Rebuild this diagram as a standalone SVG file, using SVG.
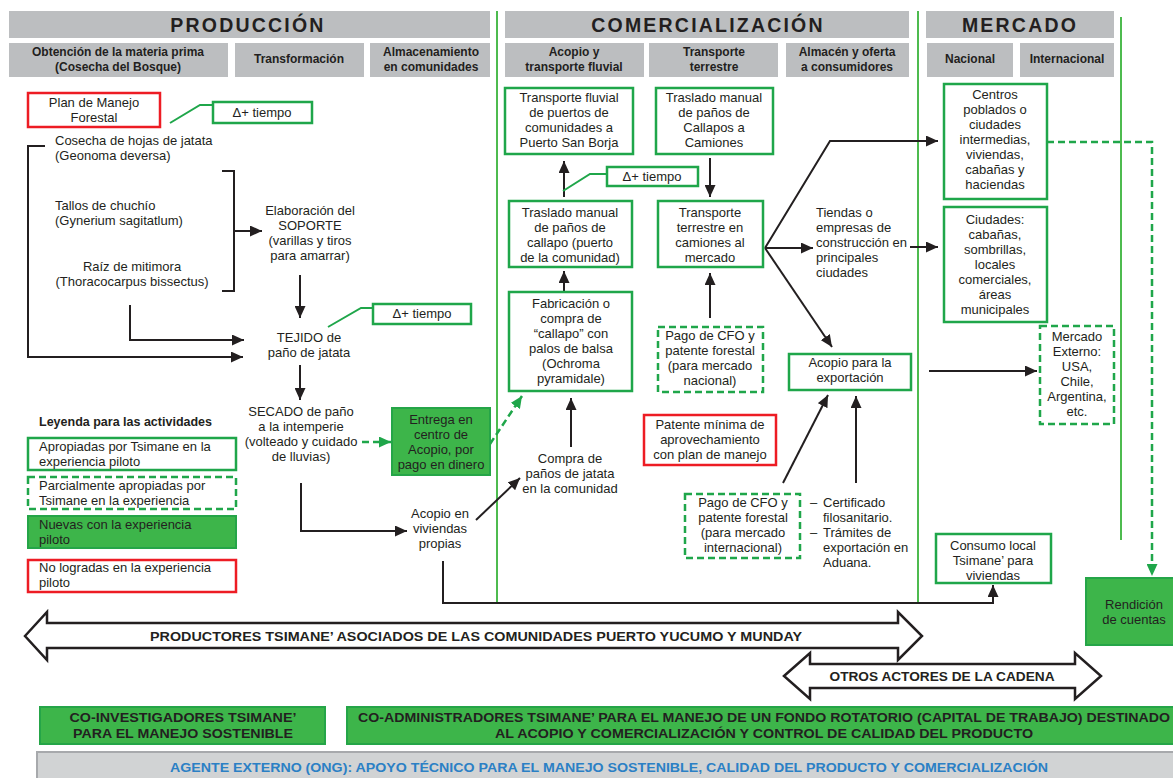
<svg xmlns="http://www.w3.org/2000/svg" width="1173" height="778" viewBox="0 0 1173 778">
<style>
.t{font-family:"Liberation Sans",Arial,Helvetica,sans-serif;font-size:13px;fill:#231f20}
.c{text-anchor:middle}
.hd{font-size:19.5px;font-weight:bold;letter-spacing:2.2px;text-anchor:middle}
.sh{font-size:12px;font-weight:bold;text-anchor:middle}
.bt{font-size:13.5px;font-weight:bold;text-anchor:middle}
.gray{fill:#bcbec0}
.gbox{fill:#fff;stroke:#1fa64a;stroke-width:2.5}
.gdash{fill:#fff;stroke:#1fa64a;stroke-width:2.5;stroke-dasharray:7 4}
.gfill{fill:#3db54a;stroke:#25a548;stroke-width:2}
.rbox{fill:#fff;stroke:#ed1c24;stroke-width:2.5}
.ln{fill:none;stroke:#231f20;stroke-width:2}
.gl{fill:none;stroke:#1fa64a;stroke-width:2}
.gld{fill:none;stroke:#1fa64a;stroke-width:2.5;stroke-dasharray:7 4}
.vl{stroke:#4dbb4f;stroke-width:2}
.big{fill:#fff;stroke:#231f20;stroke-width:2.5}
</style>
<defs>
<marker id="ab" markerUnits="userSpaceOnUse" markerWidth="12" markerHeight="11" refX="12" refY="5.5" orient="auto"><path d="M0,0 L12,5.5 L0,11 z" fill="#231f20"/></marker>
<marker id="ag" markerUnits="userSpaceOnUse" markerWidth="12" markerHeight="11" refX="12" refY="5.5" orient="auto"><path d="M0,0 L12,5.5 L0,11 z" fill="#1fa64a"/></marker>
</defs>

<g id="headers">
<rect class="gray" x="9" y="11" width="481" height="27"/>
<text class="t hd" x="248" y="32">PRODUCCIÓN</text>
<rect class="gray" x="9" y="43" width="219" height="34"/>
<text class="t sh" x="118" y="56">Obtención de la materia prima</text>
<text class="t sh" x="118" y="71">(Cosecha del Bosque)</text>
<rect class="gray" x="235" y="43" width="129" height="34"/>
<text class="t sh" x="299" y="63">Transformación</text>
<rect class="gray" x="370" y="43" width="120" height="34"/>
<text class="t sh" x="431" y="56">Almacenamiento</text>
<text class="t sh" x="431" y="71">en comunidades</text>
<rect class="gray" x="505" y="11" width="404" height="27"/>
<text class="t hd" x="708" y="32">COMERCIALIZACIÓN</text>
<rect class="gray" x="505" y="43" width="139" height="34"/>
<text class="t sh" x="574" y="56">Acopio y</text>
<text class="t sh" x="574" y="71">transporte fluvial</text>
<rect class="gray" x="649" y="43" width="129" height="34"/>
<text class="t sh" x="714" y="56">Transporte</text>
<text class="t sh" x="714" y="71">terrestre</text>
<rect class="gray" x="786" y="43" width="123" height="34"/>
<text class="t sh" x="847" y="56">Almacén y oferta</text>
<text class="t sh" x="847" y="71">a consumidores</text>
<rect class="gray" x="926" y="11" width="188" height="27"/>
<text class="t hd" x="1020" y="32">MERCADO</text>
<rect class="gray" x="927" y="43" width="86" height="34"/>
<text class="t sh" x="970" y="63">Nacional</text>
<rect class="gray" x="1020" y="43" width="94" height="34"/>
<text class="t sh" x="1067" y="63">Internacional</text>
</g>

<g id="dividers">
<line class="vl" x1="497" y1="11" x2="497" y2="603"/>
<line class="vl" x1="918" y1="11" x2="918" y2="603"/>
<line class="vl" x1="1121" y1="17" x2="1121" y2="540"/>
</g>

<g id="connectors">
<polyline class="gl" points="170,123 200,105 213,105"/>
<polyline class="ln" points="45,146 28,146 28,357 243,357" marker-end="url(#ab)"/>
<polyline class="ln" points="222,171 234,171 234,291 222,291"/>
<line class="ln" x1="234" y1="231" x2="262" y2="231" marker-end="url(#ab)"/>
<polyline class="ln" points="130,305 130,340 244,340" marker-end="url(#ab)"/>
<line class="ln" x1="300" y1="275" x2="300" y2="318" marker-end="url(#ab)"/>
<polyline class="gl" points="328,327 361,308 373,308"/>
<line class="ln" x1="300" y1="365" x2="300" y2="400" marker-end="url(#ab)"/>
<line class="gld" x1="362" y1="442" x2="391" y2="442" marker-end="url(#ag)"/>
<line class="gld" x1="490" y1="444" x2="522" y2="396" marker-end="url(#ag)"/>
<polyline class="ln" points="301,483 301,531 407,531" marker-end="url(#ab)"/>
<line class="ln" x1="476" y1="520" x2="520" y2="478" marker-end="url(#ab)"/>
<polyline class="ln" points="443,561 443,603 993,603 993,585" marker-end="url(#ab)"/>
<line class="ln" x1="571" y1="447" x2="571" y2="398" marker-end="url(#ab)"/>
<line class="ln" x1="564" y1="291" x2="564" y2="271" marker-end="url(#ab)"/>
<line class="ln" x1="564" y1="197" x2="564" y2="161" marker-end="url(#ab)"/>
<polyline class="gl" points="563,191 590,174 607,174"/>
<line class="ln" x1="710" y1="158" x2="710" y2="197" marker-end="url(#ab)"/>
<line class="ln" x1="710" y1="318" x2="710" y2="273" marker-end="url(#ab)"/>
<polyline class="ln" points="765,248 830,141 938,141" marker-end="url(#ab)"/>
<line class="ln" x1="765" y1="248" x2="813" y2="248" marker-end="url(#ab)"/>
<line class="ln" x1="765" y1="248" x2="832" y2="347" marker-end="url(#ab)"/>
<line class="ln" x1="910" y1="247" x2="938" y2="247" marker-end="url(#ab)"/>
<line class="ln" x1="783" y1="483" x2="828" y2="395" marker-end="url(#ab)"/>
<line class="ln" x1="856" y1="483" x2="856" y2="396" marker-end="url(#ab)"/>
<line class="ln" x1="929" y1="371" x2="1037" y2="371" marker-end="url(#ab)"/>
<polyline class="gld" points="1047,142 1152,142 1152,576" marker-end="url(#ag)"/>
</g>

<g id="plan-manejo">
<rect class="rbox" x="28" y="93" width="132" height="34"/>
<text class="t c" x="94" y="107">Plan de Manejo</text>
<text class="t c" x="94" y="122">Forestal</text>
</g>
<g id="tiempo-1">
<rect class="gbox" x="213" y="102" width="99" height="21"/>
<text class="t c" x="262" y="117">Δ+ tiempo</text>
</g>
<g id="cosecha">
<text class="t" x="55" y="145">Cosecha de hojas de jatata</text>
<text class="t" x="55" y="160">(Geonoma deversa)</text>
</g>
<g id="tallos">
<text class="t" x="55" y="210">Tallos de chuchío</text>
<text class="t" x="55" y="225">(Gynerium sagitatlum)</text>
</g>
<g id="raiz">
<text class="t c" x="132" y="271">Raíz de mitimora</text>
<text class="t c" x="132" y="286">(Thoracocarpus bissectus)</text>
</g>
<g id="soporte">
<text class="t c" x="310" y="215">Elaboración del</text>
<text class="t c" x="310" y="230">SOPORTE</text>
<text class="t c" x="310" y="245">(varillas y tiros</text>
<text class="t c" x="310" y="260">para amarrar)</text>
</g>
<g id="tiempo-2">
<rect class="gbox" x="373" y="304" width="98" height="20"/>
<text class="t c" x="422" y="318">Δ+ tiempo</text>
</g>
<g id="tejido">
<text class="t c" x="309" y="342">TEJIDO de</text>
<text class="t c" x="309" y="357">paño de jatata</text>
</g>
<g id="secado">
<text class="t c" x="301" y="416">SECADO de paño</text>
<text class="t c" x="301" y="431">a la intemperie</text>
<text class="t c" x="301" y="446">(volteado y cuidado</text>
<text class="t c" x="301" y="461">de lluvias)</text>
</g>
<g id="entrega">
<rect class="gfill" x="392" y="408" width="98" height="67"/>
<text class="t c" x="441" y="424">Entrega en</text>
<text class="t c" x="441" y="439">centro de</text>
<text class="t c" x="441" y="454">Acopio, por</text>
<text class="t c" x="441" y="469">pago en dinero</text>
</g>
<g id="acopio-viviendas">
<text class="t c" x="440" y="518">Acopio en</text>
<text class="t c" x="440" y="533">viviendas</text>
<text class="t c" x="440" y="548">propias</text>
</g>

<g id="legend">
<text class="t" x="39" y="426" style="font-weight:bold;font-size:12.5px">Leyenda para las actividades</text>
<rect class="gbox" x="28" y="438" width="208" height="32"/>
<text class="t" x="39" y="451">Apropiadas por Tsimane en la</text>
<text class="t" x="39" y="466">experiencia piloto</text>
<rect class="gdash" x="28" y="477" width="208" height="32"/>
<text class="t" x="39" y="490">Parcialmente apropiadas por</text>
<text class="t" x="39" y="505">Tsimane en la experiencia</text>
<rect class="gfill" x="28" y="516" width="208" height="32"/>
<text class="t" x="39" y="529">Nuevas con la experiencia</text>
<text class="t" x="39" y="544">piloto</text>
<rect class="rbox" x="28" y="560" width="208" height="32"/>
<text class="t" x="39" y="572">No logradas en la experiencia</text>
<text class="t" x="39" y="587">piloto</text>
</g>

<g id="transporte-fluvial">
<rect class="gbox" x="505" y="88" width="128" height="66"/>
<text class="t c" x="569" y="102">Transporte fluvial</text>
<text class="t c" x="569" y="117">de puertos de</text>
<text class="t c" x="569" y="132">comunidades a</text>
<text class="t c" x="569" y="147">Puerto San Borja</text>
</g>
<g id="traslado-camiones">
<rect class="gbox" x="656" y="88" width="117" height="66"/>
<text class="t c" x="714" y="102">Traslado manual</text>
<text class="t c" x="714" y="117">de paños de</text>
<text class="t c" x="714" y="132">Callapos a</text>
<text class="t c" x="714" y="147">Camiones</text>
</g>
<g id="tiempo-3">
<rect class="gbox" x="607" y="167" width="91" height="19"/>
<text class="t c" x="652" y="181">Δ+ tiempo</text>
</g>
<g id="traslado-callapo">
<rect class="gbox" x="509" y="201" width="123" height="66"/>
<text class="t c" x="570" y="217">Traslado manual</text>
<text class="t c" x="570" y="232">de paños de</text>
<text class="t c" x="570" y="247">callapo (puerto</text>
<text class="t c" x="570" y="262">de la comunidad)</text>
</g>
<g id="transporte-terrestre">
<rect class="gbox" x="658" y="201" width="105" height="66"/>
<text class="t c" x="710" y="217">Transporte</text>
<text class="t c" x="710" y="232">terrestre en</text>
<text class="t c" x="710" y="247">camiones al</text>
<text class="t c" x="710" y="262">mercado</text>
</g>
<g id="fabricacion">
<rect class="gbox" x="509" y="292" width="123" height="99"/>
<text class="t c" x="571" y="308">Fabricación o</text>
<text class="t c" x="571" y="323">compra de</text>
<text class="t c" x="571" y="338">“callapo” con</text>
<text class="t c" x="571" y="353">palos de balsa</text>
<text class="t c" x="571" y="368">(Ochroma</text>
<text class="t c" x="571" y="383">pyramidale)</text>
</g>
<g id="pago-nacional">
<rect class="gdash" x="658" y="327" width="105" height="65"/>
<text class="t c" x="710" y="340">Pago de CFO y</text>
<text class="t c" x="710" y="355">patente forestal</text>
<text class="t c" x="710" y="370">(para mercado</text>
<text class="t c" x="710" y="385">nacional)</text>
</g>
<g id="tiendas">
<text class="t" x="816" y="217">Tiendas o</text>
<text class="t" x="816" y="232">empresas de</text>
<text class="t" x="816" y="247">construcción en</text>
<text class="t" x="816" y="262">principales</text>
<text class="t" x="816" y="277">ciudades</text>
</g>
<g id="acopio-exportacion">
<rect class="gbox" x="789" y="354" width="122" height="36"/>
<text class="t c" x="850" y="367">Acopio para la</text>
<text class="t c" x="850" y="382">exportación</text>
</g>
<g id="compra">
<text class="t c" x="570" y="463">Compra de</text>
<text class="t c" x="570" y="478">paños de jatata</text>
<text class="t c" x="570" y="493">en la comunidad</text>
</g>
<g id="patente-minima">
<rect class="rbox" x="644" y="415" width="132" height="50"/>
<text class="t c" x="710" y="429">Patente mínima de</text>
<text class="t c" x="710" y="444">aprovechamiento</text>
<text class="t c" x="710" y="459">con plan de manejo</text>
</g>
<g id="pago-internacional">
<rect class="gdash" x="685" y="494" width="115" height="64"/>
<text class="t c" x="743" y="507">Pago de CFO y</text>
<text class="t c" x="743" y="522">patente forestal</text>
<text class="t c" x="743" y="537">(para mercado</text>
<text class="t c" x="743" y="552">internacional)</text>
</g>
<g id="certificado">
<text class="t" x="810" y="507">–</text>
<text class="t" x="823" y="507">Certificado</text>
<text class="t" x="823" y="522">filosanitario.</text>
<text class="t" x="810" y="537">–</text>
<text class="t" x="823" y="537">Trámites de</text>
<text class="t" x="823" y="552">exportación en</text>
<text class="t" x="823" y="567">Aduana.</text>
</g>

<g id="centros-poblados">
<rect class="gbox" x="944" y="84" width="103" height="115"/>
<text class="t c" x="995" y="99">Centros</text>
<text class="t c" x="995" y="114">poblados o</text>
<text class="t c" x="995" y="129">ciudades</text>
<text class="t c" x="995" y="144">intermedias,</text>
<text class="t c" x="995" y="159">viviendas,</text>
<text class="t c" x="995" y="174">cabañas y</text>
<text class="t c" x="995" y="189">haciendas</text>
</g>
<g id="ciudades">
<rect class="gbox" x="944" y="207" width="103" height="115"/>
<text class="t c" x="995" y="224">Ciudades:</text>
<text class="t c" x="995" y="239">cabañas,</text>
<text class="t c" x="995" y="254">sombrillas,</text>
<text class="t c" x="995" y="269">locales</text>
<text class="t c" x="995" y="284">comerciales,</text>
<text class="t c" x="995" y="299">áreas</text>
<text class="t c" x="995" y="314">municipales</text>
</g>
<g id="mercado-externo">
<rect class="gdash" x="1040" y="326" width="74" height="98"/>
<text class="t c" x="1077" y="341">Mercado</text>
<text class="t c" x="1077" y="356">Externo:</text>
<text class="t c" x="1077" y="371">USA,</text>
<text class="t c" x="1077" y="386">Chile,</text>
<text class="t c" x="1077" y="401">Argentina,</text>
<text class="t c" x="1077" y="416">etc.</text>
</g>
<g id="consumo-local">
<rect class="gbox" x="936" y="534" width="115" height="49"/>
<text class="t c" x="993" y="550">Consumo local</text>
<text class="t c" x="993" y="565">Tsimane’ para</text>
<text class="t c" x="993" y="580">viviendas</text>
</g>
<g id="rendicion">
<rect class="gfill" x="1086" y="578" width="100" height="67"/>
<text class="t c" x="1134" y="609">Rendición</text>
<text class="t c" x="1134" y="624">de cuentas</text>
</g>

<g id="productores">
<polygon class="big" points="25,636 47,612 47,623 898,623 898,612 922,636 898,660 898,648 47,648 47,660"/>
<text class="t bt" x="476" y="641" textLength="652" lengthAdjust="spacingAndGlyphs">PRODUCTORES TSIMANE’ ASOCIADOS DE LAS COMUNIDADES PUERTO YUCUMO Y MUNDAY</text>
</g>
<g id="otros-actores">
<polygon class="big" points="784,676 810,653 810,664 1075,664 1075,653 1101,676 1075,699 1075,688 810,688 810,699"/>
<text class="t bt" x="942" y="681" textLength="225" lengthAdjust="spacingAndGlyphs">OTROS ACTORES DE LA CADENA</text>
</g>
<g id="co-investigadores">
<rect class="gfill" x="40" y="707" width="285" height="37"/>
<text class="t bt" x="183" y="722" textLength="227" lengthAdjust="spacingAndGlyphs">CO-INVESTIGADORES TSIMANE’</text>
<text class="t bt" x="183" y="738" textLength="220" lengthAdjust="spacingAndGlyphs">PARA EL MANEJO SOSTENIBLE</text>
</g>
<g id="co-administradores">
<rect class="gfill" x="347" y="707" width="840" height="37"/>
<text class="t bt" x="764" y="722" textLength="812" lengthAdjust="spacingAndGlyphs">CO-ADMINISTRADORES TSIMANE’ PARA EL MANEJO DE UN FONDO ROTATORIO (CAPITAL DE TRABAJO) DESTINADO</text>
<text class="t bt" x="764" y="738" textLength="538" lengthAdjust="spacingAndGlyphs">AL ACOPIO Y COMERCIALIZACIÓN Y CONTROL DE CALIDAD DEL PRODUCTO</text>
</g>
<g id="agente-externo">
<rect x="37" y="752" width="1150" height="30" fill="#d1d3d4" stroke="#a7a9ac" stroke-width="2"/>
<text class="t bt" x="609" y="772" style="fill:#2b80c5" textLength="878" lengthAdjust="spacingAndGlyphs">AGENTE EXTERNO (ONG): APOYO TÉCNICO PARA EL MANEJO SOSTENIBLE, CALIDAD DEL PRODUCTO Y COMERCIALIZACIÓN</text>
</g>
</svg>
